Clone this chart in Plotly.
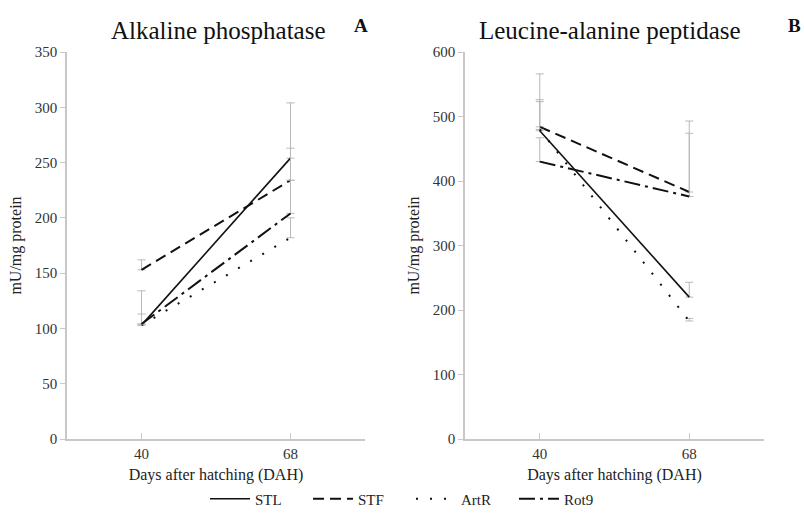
import plotly.graph_objects as go

days = [40, 68]
series = ["STL", "STF", "ArtR", "Rot9"]

alp_vals = {"STL": [103, 254], "STF": [153, 234], "ArtR": [103, 182], "Rot9": [104, 204]}
alp_err = {"STL": [31, 50], "STF": [9, 29], "ArtR": [10, 18], "Rot9": [0, 30]}

lap_vals = {"STL": [478, 220], "STF": [484, 383], "ArtR": [480, 183], "Rot9": [430, 376]}
lap_err = {"STL": [48, 23], "STF": [82, 110], "ArtR": [43, 4], "Rot9": [37, 98]}

alp_ticks = [0, 50, 100, 150, 200, 250, 300, 350]
lap_ticks = [0, 100, 200, 300, 400, 500, 600]

dashes = {"STL": "solid", "STF": "11px,6px", "ArtR": "2px,12px", "Rot9": "16px,5px,3px,5px"}
widths = {"STL": 1.6, "STF": 2.0, "ArtR": 2.0, "Rot9": 2.0}

FONT = "Liberation Serif, Times New Roman, serif"
GRAY = "#b8b8b8"
AXC = "#c8c8c8"

fig = go.Figure()

for panel, vals, errs in [(1, alp_vals, alp_err), (2, lap_vals, lap_err)]:
    for s in series:
        fig.add_trace(go.Scatter(
            x=days, y=vals[s], mode="lines", name=s, legendgroup=s,
            showlegend=(panel == 1),
            line=dict(color="#111111", width=widths[s], dash=dashes[s]),
            error_y=dict(type="data", symmetric=False, array=errs[s],
                         arrayminus=[0, 0], color=GRAY, thickness=1, width=4),
            xaxis="x" if panel == 1 else "x2",
            yaxis="y" if panel == 1 else "y2",
        ))

axis_common = dict(showline=True, linecolor=AXC, linewidth=1.5, showgrid=False,
                   zeroline=False, tickfont=dict(family=FONT, size=15, color="#333333"))
xtitle = dict(text="Days after hatching (DAH)", font=dict(family=FONT, size=16, color="#222222"), standoff=8)
ytitle = dict(text="mU/mg protein", font=dict(family=FONT, size=16, color="#222222"), standoff=9)

fig.update_layout(
    width=804, height=521,
    margin=dict(l=0, r=0, t=52, b=82),
    paper_bgcolor="white", plot_bgcolor="white",
    font=dict(family=FONT, color="#222222"),
    xaxis=dict(domain=[67/804, 365/804], range=[26, 82], tickvals=days,
               ticks="inside", ticklen=6, tickcolor=AXC, title=xtitle,
               anchor="y", **axis_common),
    yaxis=dict(domain=[0, 1], range=[0, 350], tickvals=alp_ticks,
               ticks="outside", ticklen=5, tickcolor=AXC, title=ytitle,
               anchor="x", **axis_common),
    xaxis2=dict(domain=[465/804, 764/804], range=[26, 82], tickvals=days,
                ticks="inside", ticklen=6, tickcolor=AXC, title=xtitle,
                anchor="y2", **axis_common),
    yaxis2=dict(domain=[0, 1], range=[0, 600], tickvals=lap_ticks,
                ticks="outside", ticklen=5, tickcolor=AXC, title=ytitle,
                anchor="x2", **axis_common),
    legend=dict(orientation="h", x=0.5 + 9/804, xanchor="center", y=(439 - 499) / 387, yanchor="middle",
                font=dict(family=FONT, size=15, color="#222222"),
                entrywidth=48, entrywidthmode="pixels", itemwidth=40,
                bgcolor="rgba(0,0,0,0)"),
    showlegend=True,
)

def py(px):
    return (439 - px) / 387

fig.add_annotation(text="Alkaline phosphatase", x=218/804, y=py(31), xref="paper", yref="paper",
                   yanchor="middle", xanchor="center", showarrow=False,
                   font=dict(family=FONT, size=25, color="#111111"))
fig.add_annotation(text="Leucine-alanine peptidase", x=610/804, y=py(31), xref="paper", yref="paper",
                   yanchor="middle", xanchor="center", showarrow=False,
                   font=dict(family=FONT, size=25, color="#111111"))
fig.add_annotation(text="<b>A</b>", x=361/804, y=py(25), xref="paper", yref="paper",
                   yanchor="middle", xanchor="center", showarrow=False,
                   font=dict(family=FONT, size=19, color="#111111"))
fig.add_annotation(text="<b>B</b>", x=794/804, y=py(25), xref="paper", yref="paper",
                   yanchor="middle", xanchor="center", showarrow=False,
                   font=dict(family=FONT, size=19, color="#111111"))

fig.write_html("out.html", config={"displayModeBar": False},
               post_script="document.body.style.margin='0';")
